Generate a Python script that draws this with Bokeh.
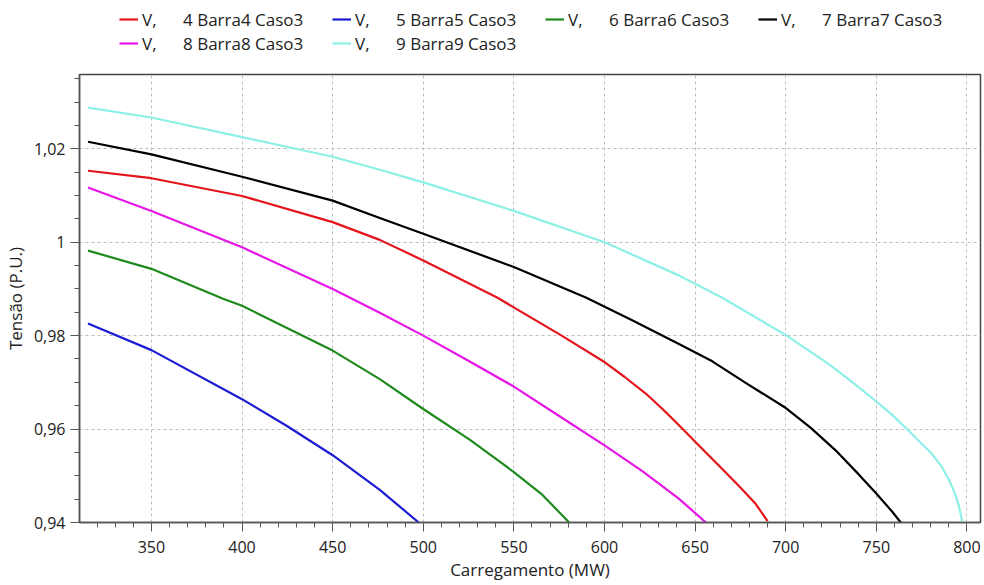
from bokeh.plotting import figure
from bokeh.layouts import column
from bokeh.models import Legend, LegendItem, FixedTicker, CustomJSTickFormatter, Range1d
from bokeh.embed import file_html
from bokeh.resources import INLINE

# ---- data ----
x4 = [315, 350, 400, 450, 476, 500, 541, 575.9, 600.2, 611, 622.8, 632, 641.1, 652.1, 663.1, 674.2,
      683.4, 690]
y4 = [1.0153, 1.0137, 1.0099, 1.0043, 1.0005, 0.9961, 0.9881, 0.9801, 0.9743, 0.9712, 0.9676, 0.9643,
      0.9608, 0.9565, 0.9522, 0.9478, 0.9440, 0.9403]

x5 = [315, 350, 400, 425, 450, 476, 497.5]
y5 = [0.9826, 0.9769, 0.9664, 0.9606, 0.9544, 0.9470, 0.9400]

x6 = [315, 350, 389.5, 400, 450, 476, 500, 525.4, 550, 565.8, 580.5]
y6 = [0.9982, 0.9943, 0.9879, 0.9864, 0.9768, 0.9707, 0.9643, 0.9578, 0.9508, 0.9459, 0.9400]

x7 = [315, 350, 400, 450, 476, 500, 550, 590, 615, 641.1, 659.5, 677.9, 700.1, 713.7, 727.4, 740.3,
      750, 758.6, 763.5]
y7 = [1.0215, 1.0188, 1.0140, 1.0089, 1.0052, 1.0018, 0.9947, 0.9881, 0.98335, 0.9782, 0.9745, 0.9699,
      0.9645, 0.9603, 0.9555, 0.9503, 0.9462, 0.9424, 0.9400]

x8 = [315, 350, 400, 450, 476, 500, 525.4, 550, 575, 600, 620.9, 641, 656]
y8 = [1.0117, 1.0067, 0.9989, 0.9900, 0.9849, 0.9800, 0.9745, 0.9691, 0.9628, 0.9565, 0.9510, 0.9451,
      0.9400]

x9 = [315, 350, 400, 450, 476, 500, 550, 600, 641, 665, 700.1, 723.8, 736.6, 750, 758.6, 766.9, 775.2,
      780, 786, 790, 793, 795.5, 797.5]
y9 = [1.0288, 1.0267, 1.0225, 1.0183, 1.0155, 1.0128, 1.0067, 1.0000, 0.9929, 0.9881, 0.9801, 0.9739,
      0.9701, 0.9659, 0.9631, 0.9600, 0.9568, 0.9550, 0.9520, 0.9492, 0.9466, 0.9437, 0.9400]

series_x = [x4, x5, x6, x7, x8, x9]
series_y = [y4, y5, y6, y7, y8, y9]
series_labels = ["V,      4 Barra4 Caso3", "V,      5 Barra5 Caso3", "V,      6 Barra6 Caso3",
                 "V,      7 Barra7 Caso3", "V,      8 Barra8 Caso3", "V,      9 Barra9 Caso3"]
series_colors = ["#E3141C", "#1C1CD2", "#1E8A1E", "#000000", "#E616E6", "#8CF0E6"]

x_ticks = [350, 400, 450, 500, 550, 600, 650, 700, 750, 800]
x_minor = [v for v in range(320, 810, 10)]
y_ticks = [0.94, 0.96, 0.98, 1.00, 1.02]
y_minor = [round(0.94 + 0.005 * i, 3) for i in range(0, 20)]

FONT = "Open Sans"

# ---- main plot ----
p = figure(width=984, height=513, output_backend="svg", toolbar_location=None,
           x_range=Range1d(310.3, 807.5), y_range=Range1d(0.94, 1.0359),
           min_border_left=78, min_border_right=4, min_border_top=2, min_border_bottom=63,
           background_fill_color="white", border_fill_color="white")

for xs, ys, c in zip(series_x, series_y, series_colors):
    p.line(xs, ys, line_color=c, line_width=2.2, line_join="round")

p.outline_line_color = "#444444"
p.outline_line_width = 1.5

for ax in (p.xaxis[0], p.yaxis[0]):
    ax.axis_line_color = "#555555"
    ax.axis_line_width = 1.5
    ax.major_tick_line_color = "#555555"
    ax.minor_tick_line_color = "#555555"
    ax.major_tick_in = 0
    ax.major_tick_out = 9
    ax.minor_tick_in = 0
    ax.minor_tick_out = 5
    ax.major_label_text_font = FONT
    ax.major_label_text_font_size = "16px"
    ax.major_label_text_color = "#222222"
    ax.axis_label_text_font = FONT
    ax.axis_label_text_font_size = "17px"
    ax.axis_label_text_font_style = "normal"
    ax.axis_label_text_color = "#222222"

p.xaxis.ticker = FixedTicker(ticks=x_ticks, minor_ticks=x_minor)
p.yaxis.ticker = FixedTicker(ticks=y_ticks, minor_ticks=y_minor)
p.yaxis.formatter = CustomJSTickFormatter(code="""
    var s = (Math.round(tick * 100) / 100).toString();
    return s.replace('.', ',');
""")
p.xaxis.axis_label = "Carregamento (MW)"
p.yaxis.axis_label = "Tensão (P.U.)"
p.xaxis.major_label_standoff = 9
p.xaxis.axis_label_standoff = 2
p.yaxis.major_label_standoff = 5
p.yaxis.axis_label_standoff = 4

p.xgrid.ticker = FixedTicker(ticks=x_ticks)
p.ygrid.ticker = FixedTicker(ticks=y_ticks)
for g in (p.xgrid[0], p.ygrid[0]):
    g.grid_line_color = "#BDBDBD"
    g.grid_line_dash = "3 3"
    g.grid_line_width = 1

# ---- legend strip on top (its lines fall outside its own ranges, so only the legend shows) ----
lg = figure(width=984, height=72, output_backend="svg", toolbar_location=None,
            x_range=Range1d(0, 1), y_range=Range1d(0, 1),
            x_axis_location=None, y_axis_location=None, min_border=0,
            background_fill_color="white", border_fill_color="white")
lg.grid.visible = False
lg.outline_line_color = None
leg_renderers = [lg.line(xs, ys, line_color=c, line_width=2.2)
                 for xs, ys, c in zip(series_x, series_y, series_colors)]

items = [LegendItem(label=l, renderers=[r]) for l, r in zip(series_labels, leg_renderers)]
legend = Legend(items=items, orientation="horizontal", ncols=4, location=(40, 17),
                padding=0, margin=0, spacing=0,
                glyph_width=19, glyph_height=24, label_height=24, label_width=190,
                label_standoff=4,
                label_text_font=FONT, label_text_font_size="17px", label_text_color="#222222",
                border_line_color=None, background_fill_alpha=0)
lg.add_layout(legend, "center")

layout = column(lg, p, spacing=0)
open("out.html", "w").write(file_html(layout, INLINE))
